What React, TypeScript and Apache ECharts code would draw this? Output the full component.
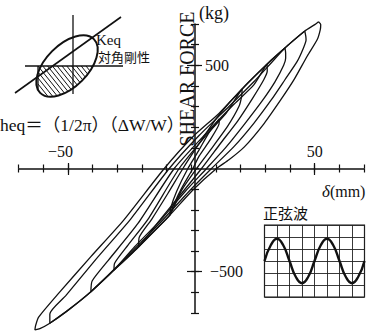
import React, { useEffect, useRef } from 'react';
import * as echarts from 'echarts';

// Axis ranges and labelled ticks
const X_MIN = -70;
const X_MAX = 70;
const X_STEP = 10;
const Y_MIN = -700;
const Y_MAX = 700;
const Y_STEP = 100;
const X_MAJOR = [-50, 50];
const Y_MAJOR = [-500, 500];
const X_LABELS: Record<number, string> = { [-50]: '{l|−50}', 50: '50' };
const Y_LABELS: Record<number, string> = { [-500]: '{r|−500}', 500: '500' };

// Hysteresis loops, displacement δ (mm) vs shear force (kg).
// Each loop starts at its positive peak, runs down the unloading branch
// to the negative peak and returns along the loading branch.
const LOOP_1: [number, number][] = [
  [50.5, 711], [51.4, 698], [51.2, 672], [50.0, 625], [46.0, 545], [40.6, 429],
  [35.3, 332], [28.7, 219], [20.8, 106], [14.5, 42], [9.5, 0], [0, -104],
  [-9.2, -225], [-21.8, -379], [-31.7, -492], [-41, -597], [-50, -685],
  [-57.5, -750], [-61.5, -776], [-63.5, -782], [-63.2, -760], [-62, -720],
  [-54, -605], [-41, -427], [-27.8, -250], [-11.5, 0], [0, 154], [10.6, 268],
  [19.8, 385], [29.8, 505], [37, 584], [45, 666], [49, 697], [50.5, 711],
];
const LOOP_2: [number, number][] = [
  [45, 666], [45.4, 640], [45.5, 622], [44.5, 585], [42, 520], [37, 430],
  [31.5, 332], [24.5, 219], [16.5, 106], [7.5, 0], [-1.5, -110], [-11, -235],
  [-21, -360], [-30.5, -475], [-41, -597], [-50, -685], [-57.5, -750],
  [-57.5, -705], [-51, -615], [-39, -440], [-25, -245], [-9.5, 0], [2.5, 160],
  [14.5, 300], [24.5, 420], [31, 505], [37, 584], [45, 666],
];
const LOOP_3: [number, number][] = [
  [37, 584], [37.3, 560], [37.3, 534], [36.5, 500], [33, 420], [28, 330],
  [21, 219], [13.5, 106], [5.5, 0], [-3, -110], [-13, -250], [-23.5, -380],
  [-31.7, -492], [-41, -597], [-40.5, -545], [-34, -445], [-22, -265],
  [-7.5, 0], [4.5, 160], [16, 305], [24.5, 405], [29.8, 505], [37, 584],
];
const LOOP_4: [number, number][] = [
  [29.8, 505], [29.9, 472], [28.5, 430], [24, 340], [18, 230], [11, 120],
  [3.5, 0], [-4.5, -120], [-13, -245], [-21.8, -379], [-31.7, -492],
  [-31.5, -460], [-26, -370], [-18, -245], [-5.5, 0], [6, 170], [13.5, 270],
  [19.8, 385], [29.8, 505],
];
const LOOP_5: [number, number][] = [
  [19.8, 385], [19.6, 350], [18.5, 300], [14, 205], [8, 105], [1.5, 0],
  [-4.5, -105], [-9.2, -225], [-15.5, -302], [-21.8, -379], [-21.6, -335],
  [-16.5, -245], [-10, -120], [-4, 0], [2.5, 120], [9, 235], [14, 310],
  [19.8, 385],
];
const LOOP_6: [number, number][] = [
  [10.6, 240], [10.5, 215], [7, 140], [2.5, 60], [0, 0], [-4.5, -95],
  [-7.5, -170], [-9.2, -225], [-9, -195], [-6.5, -110], [-2, 0], [2.5, 90],
  [6.3, 170], [10.6, 240],
];
const LOOPS = [LOOP_1, LOOP_2, LOOP_3, LOOP_4, LOOP_5, LOOP_6];

// Sine-wave input record (grid divisions)
const WAVE_X = [0, 0.5, 1, 1.5, 2, 2.5, 3, 3.5, 4, 4.5, 5, 5.5, 6, 6.5, 7, 7.5, 8];
const WAVE_Y = [0, 1.31, 1.85, 1.31, 0, -1.31, -1.85, -1.31, 0, 1.31, 1.85, 1.31, 0, -1.31, -1.85, -1.31, 0];

const INK = '#111';
const SERIF = '"Liberation Serif", "Times New Roman", serif';
const CJK = '"Noto Sans CJK JP", sans-serif';

// Plot frame: pixels per unit and the origin position
const PX_PER_MM = 2.518;
const PX_PER_KG = 0.2064;
const ORIGIN_X = 195;
const ORIGIN_Y = 168.5;
const PLOT_LEFT = ORIGIN_X - (0 - X_MIN) * PX_PER_MM;
const PLOT_W = (X_MAX - X_MIN) * PX_PER_MM;
const PLOT_TOP = ORIGIN_Y - Y_MAX * PX_PER_KG;
const PLOT_H = (Y_MAX - Y_MIN) * PX_PER_KG;

// Equivalent-stiffness sketch (top-left): ellipse, axes, secant, hatched area
const EL = { cx: 67, cy: 66, a: 38, b: 21, theta: Math.PI / 4 };
const CROSS_Y = 66;
const HATCH_LEFT = 38;

function lowerArcY(x: number): number | null {
  const s = Math.sin(EL.theta);
  const c = Math.cos(EL.theta);
  const dx = x - EL.cx;
  const A = (s * s) / (EL.a * EL.a) + (c * c) / (EL.b * EL.b);
  const B = 2 * dx * s * c * (1 / (EL.b * EL.b) - 1 / (EL.a * EL.a));
  const C = dx * dx * ((c * c) / (EL.a * EL.a) + (s * s) / (EL.b * EL.b)) - 1;
  const disc = B * B - 4 * A * C;
  if (disc < 0) return null;
  return EL.cy + (-B + Math.sqrt(disc)) / (2 * A);
}

function hatchLines() {
  const k = 1.25;
  const out: any[] = [];
  for (let c0 = CROSS_Y - k * 110; c0 < 110 - k * 30; c0 += 6) {
    let first: number | null = null;
    let last: number | null = null;
    for (let x = 30; x <= 110; x += 0.2) {
      const y = k * x + c0;
      const yl = lowerArcY(x);
      if (x >= HATCH_LEFT && y >= CROSS_Y && yl !== null && y <= yl) {
        if (first === null) first = x;
        last = x;
      }
    }
    if (first !== null && last !== null && last - first > 0.5) {
      out.push({
        type: 'line',
        shape: { x1: first, y1: k * first + c0, x2: last, y2: k * last + c0 },
        style: { stroke: INK, lineWidth: 1 },
        silent: true,
      });
    }
  }
  return out;
}

function sketchGraphics() {
  const leftBottom = lowerArcY(HATCH_LEFT) ?? 90;
  return [
    { type: 'line', shape: { x1: 73, y1: 15, x2: 73, y2: 94 }, style: { stroke: INK, lineWidth: 1.3 } },
    { type: 'line', shape: { x1: 25, y1: CROSS_Y, x2: 123, y2: CROSS_Y }, style: { stroke: INK, lineWidth: 1.3 } },
    { type: 'line', shape: { x1: 15, y1: 93, x2: 121, y2: 17 }, style: { stroke: INK, lineWidth: 1.6 } },
    {
      type: 'ellipse', x: EL.cx, y: EL.cy, rotation: EL.theta,
      shape: { cx: 0, cy: 0, rx: EL.a, ry: EL.b },
      style: { fill: 'transparent', stroke: INK, lineWidth: 2 },
    },
    { type: 'line', shape: { x1: HATCH_LEFT, y1: CROSS_Y, x2: HATCH_LEFT, y2: leftBottom }, style: { stroke: INK, lineWidth: 1.3 } },
    ...hatchLines(),
  ];
}

function textEl(text: string, x: number, y: number, font: string, extra: any = {}) {
  const align = extra.align || 'left';
  return {
    type: 'text', x, y, silent: true,
    rotation: extra.rotation || 0,
    style: {
      text, font, fill: INK,
      textAlign: align, textVerticalAlign: 'middle',
      align, verticalAlign: 'middle',
    },
  };
}

const hiddenAxis = (gridIndex: number, min: number, max: number) => ({
  type: 'value', gridIndex, min, max, show: false,
});

const tickStyle = { color: INK, width: 1.2 };
const labelFont = { color: INK, fontFamily: SERIF, fontSize: 16 };

// Tick-only axis (no line, no labels), used to make ticks cross the axis line
const tickAxis = (
  gridIndex: number, position: string, min: number, max: number, interval: number,
  inside: boolean, length: number, customValues?: number[],
) => ({
  type: 'value', gridIndex, position, min, max, interval,
  axisLine: { show: false, onZero: false },
  axisTick: { show: true, inside, length, lineStyle: tickStyle, ...(customValues ? { customValues } : {}) },
  axisLabel: { show: false },
  splitLine: { show: false },
});

export default function App() {
  const ref = useRef<HTMLDivElement>(null);

  useEffect(() => {
    if (!ref.current) return;
    const chart = echarts.init(ref.current, null, { renderer: 'svg' });

    const option: any = {
      animation: false,
      backgroundColor: '#fff',
      grid: [
        // 0: data area for the loops
        { left: PLOT_LEFT, top: PLOT_TOP, width: PLOT_W, height: PLOT_H },
        // 1: upper half, its bottom edge carries the δ axis
        { left: PLOT_LEFT, top: PLOT_TOP, width: PLOT_W, height: ORIGIN_Y - PLOT_TOP },
        // 2: right half, its left edge carries the force axis
        { left: ORIGIN_X, top: PLOT_TOP, width: PLOT_LEFT + PLOT_W - ORIGIN_X, height: PLOT_H },
        // 3: sine-wave record
        { left: 264.5, top: 225, width: 100, height: 72, show: true, borderColor: INK, borderWidth: 1.2, backgroundColor: 'transparent' },
      ],
      xAxis: [
        hiddenAxis(0, X_MIN, X_MAX),
        {
          type: 'value', gridIndex: 1, position: 'bottom', min: X_MIN, max: X_MAX, interval: X_STEP,
          axisLine: { show: true, onZero: false, lineStyle: { color: INK, width: 1.5 } },
          axisTick: { show: true, inside: false, length: 4, lineStyle: tickStyle },
          axisLabel: {
            inside: true, margin: 9, ...labelFont,
            formatter: (v: number) => X_LABELS[v] ?? '',
            rich: { l: { ...labelFont, padding: [0, 15, 0, 0] } },
          },
          splitLine: { show: false },
        },
        tickAxis(1, 'bottom', X_MIN, X_MAX, X_STEP, true, 4),
        tickAxis(1, 'bottom', X_MIN, X_MAX, X_STEP, true, 5.5, X_MAJOR),
        tickAxis(1, 'bottom', X_MIN, X_MAX, X_STEP, false, 6.5, X_MAJOR),
        hiddenAxis(2, 0, X_MAX),
        {
          type: 'value', gridIndex: 3, min: 0, max: 8, interval: 1,
          axisLine: { show: false }, axisTick: { show: false }, axisLabel: { show: false },
          splitLine: { show: true, lineStyle: { color: '#222', width: 0.9 } },
        },
      ],
      yAxis: [
        hiddenAxis(0, Y_MIN, Y_MAX),
        hiddenAxis(1, 0, Y_MAX),
        {
          type: 'value', gridIndex: 2, position: 'left', min: Y_MIN, max: Y_MAX, interval: Y_STEP,
          axisLine: { show: true, onZero: false, lineStyle: { color: INK, width: 1.5 } },
          axisTick: { show: true, inside: false, length: 4, lineStyle: tickStyle },
          axisLabel: {
            inside: true, margin: 10, ...labelFont,
            formatter: (v: number) => Y_LABELS[v] ?? '',
            rich: { r: { ...labelFont, padding: [0, 0, 0, 5] } },
          },
          splitLine: { show: false },
        },
        tickAxis(2, 'left', Y_MIN, Y_MAX, Y_STEP, true, 4),
        tickAxis(2, 'left', Y_MIN, Y_MAX, Y_STEP, true, 7, Y_MAJOR),
        tickAxis(2, 'left', Y_MIN, Y_MAX, Y_STEP, false, 8, Y_MAJOR),
        {
          type: 'value', gridIndex: 3, min: -3, max: 3, interval: 1,
          axisLine: { show: false }, axisTick: { show: false }, axisLabel: { show: false },
          splitLine: { show: true, lineStyle: { color: '#222', width: 0.9 } },
        },
      ],
      series: [
        ...LOOPS.map((loop, i) => ({
          name: `loop${i + 1}`,
          type: 'line',
          xAxisIndex: 0, yAxisIndex: 0,
          data: loop,
          showSymbol: false, symbol: 'none',
          smooth: 0.2,
          clip: false,
          silent: true,
          z: 3,
          lineStyle: { color: INK, width: 1.3 },
        })),
        {
          name: 'wave',
          type: 'line',
          xAxisIndex: 6, yAxisIndex: 6,
          data: WAVE_X.map((x, i) => [x, WAVE_Y[i]]),
          showSymbol: false, symbol: 'none',
          smooth: true, silent: true, z: 3,
          lineStyle: { color: INK, width: 2.4 },
        },
      ],
      graphic: [
        ...sketchGraphics(),
        textEl('Keq', 96, 40, `15px ${SERIF}`),
        textEl('対角剛性', 98, 56, `13px ${CJK}`),
        textEl('heq＝（1/2π）（ΔW/W）', 0, 125, `17.5px ${SERIF}, ${CJK}`),
        textEl('SHEAR FORCE', 187, 79, `20px ${SERIF}`, { align: 'center', rotation: Math.PI / 2 }),
        textEl('(kg)', 199, 13, `18px ${SERIF}`),
        {
          type: 'text', x: 322, y: 191, silent: true,
          style: {
            text: '{d|δ}(mm)', font: `16px ${SERIF}`, fill: INK,
            textAlign: 'left', textVerticalAlign: 'middle', align: 'left', verticalAlign: 'middle',
            rich: { d: { fontStyle: 'italic', fontFamily: SERIF, fontSize: 17, fill: INK } },
          },
        },
        textEl('正弦波', 263, 212.5, `15px ${CJK}`),
      ],
    };

    chart.setOption(option);
    return () => chart.dispose();
  }, []);

  return (
    <div
      ref={ref}
      style={{ position: 'fixed', left: 0, top: 0, width: 367, height: 332, background: '#fff' }}
    />
  );
}
